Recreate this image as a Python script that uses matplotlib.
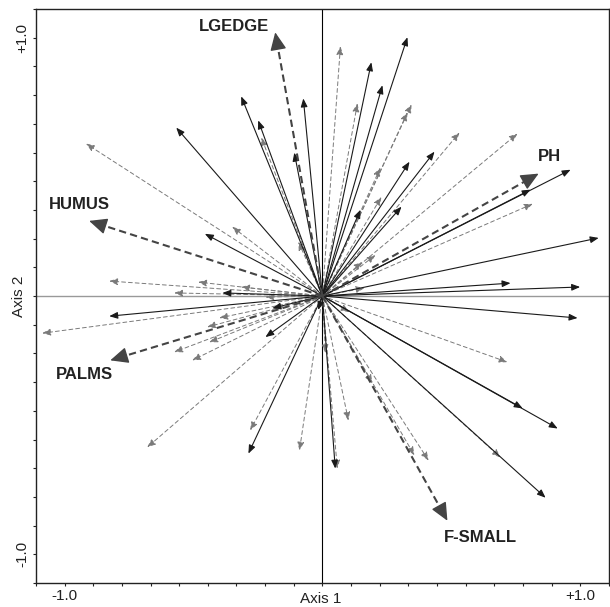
import matplotlib
matplotlib.use("Agg")
import matplotlib.pyplot as plt
import numpy as np

plt.rcParams['font.family'] = ['Liberation Sans', 'DejaVu Sans']

# environmental variables (bold dashed arrows)
env_names = ["LGEDGE", "HUMUS", "PH", "PALMS", "F-SMALL"]
env_x = [-0.183, -0.905, 0.839, -0.823, 0.485]
env_y = [1.021, 0.291, 0.474, -0.249, -0.870]
env_lab_x = [-0.342, -0.944, 0.882, -0.924, 0.614]
env_lab_y = [1.045, 0.353, 0.540, -0.303, -0.936]

# species, solid black arrows
sp_solid_x = [1.072, 1.000, 0.730, 0.963, 0.808, 0.435, 0.338, 0.307, 0.148,
              0.330, 0.190, 0.233, -0.315, -0.249, -0.074, -0.109, -0.567,
              -0.456, -0.388, -0.827, -0.194, -0.221, -0.287, 0.050, 0.990,
              0.777, 0.913, 0.866, -0.016]
sp_solid_y = [0.225, 0.035, 0.050, 0.489, 0.412, 0.559, 0.520, 0.346, 0.334,
              1.002, 0.905, 0.816, 0.773, 0.680, 0.765, 0.555, 0.652,
              0.241, 0.012, -0.078, -0.047, -0.159, -0.610, -0.668, -0.085,
              -0.435, -0.513, -0.781, -0.054]

# species, gray dashed arrows
sp_dash_x = [0.532, 0.757, 0.816, 0.346, 0.330, 0.229, 0.225, 0.206, 0.155,
             0.136, 0.070, -0.237, -0.917, -0.350, -0.093, -0.827, -0.482,
             -0.315, -0.575, -0.221, -1.087, -0.400, -0.447, -0.439, -0.575,
             -0.505, -0.680, -0.280, -0.089, 0.058, 0.101, 0.357, 0.412,
             0.718, 0.691, 0.105, 0.012, 0.194, 0.163]
sp_dash_y = [0.633, 0.629, 0.357, 0.742, 0.711, 0.384, 0.497, 0.159, 0.132,
             0.746, 0.967, 0.614, 0.590, 0.268, 0.210, 0.058, 0.054,
             0.035, 0.012, -0.004, -0.144, -0.085, -0.120, -0.179, -0.217,
             -0.249, -0.586, -0.520, -0.598, -0.668, -0.482, -0.617, -0.637,
             -0.256, -0.625, -0.062, -0.221, -0.338, 0.031]

fig = plt.figure(figsize=(6.10, 6.07), dpi=100)
ax = fig.add_axes([0.059, 0.0395, 0.939, 0.9456])

lim = 10 / 9
ax.set_xlim(-lim, lim)
ax.set_ylim(-lim, lim)

ax.axhline(0, color="0.6", lw=1.0, zorder=1)
ax.axvline(0, color="black", lw=0.8, zorder=1)

def arrow(x, y, color, lw, ls, head, z, x0=0, y0=0):
    ax.annotate("", xy=(x, y), xytext=(x0, y0),
                arrowprops=dict(arrowstyle=head, color=color, lw=lw, ls=ls,
                                shrinkA=0, shrinkB=0),
                zorder=z)

for x, y in zip(sp_dash_x, sp_dash_y):
    arrow(x, y, "#7a7a7a", 0.7, (0, (4, 3)), "-|>,head_length=0.5,head_width=0.2", 2)

for x, y in zip(sp_solid_x, sp_solid_y):
    arrow(x, y, "#1a1a1a", 0.8, "-", "-|>,head_length=0.5,head_width=0.2", 3)

for x, y in zip(env_x, env_y):
    r = np.hypot(x, y)
    ux, uy = x / r, y / r
    # dashed shaft, then a solid head on top
    ax.plot([0, x - 0.03 * ux], [0, y - 0.03 * uy], color="#444444", lw=1.5,
            ls=(0, (3.5, 2)), zorder=4)
    arrow(x, y, "#444444", 1.0, "-", "-|>,head_length=1.1,head_width=0.5", 4,
          x - 0.06 * ux, y - 0.06 * uy)

for name, lx, ly in zip(env_names, env_lab_x, env_lab_y):
    ax.text(lx, ly, name, fontsize=12, fontweight="bold", color="#222222",
            ha="center", va="center", zorder=5)

ticks = np.arange(-10, 11) / 9
ax.set_xticks(ticks)
ax.set_yticks(ticks)
xl = ["" for t in ticks]
xl[1] = "-1.0"
xl[-2] = "+1.0"
ax.set_xticklabels(xl)
ax.set_yticklabels(xl, rotation=90, va="center")
ax.tick_params(direction="out", length=2.5, width=0.8, labelsize=11,
               colors="#222222", pad=2)

ax.set_xlabel("Axis 1", fontsize=11, color="#222222", va="center")
ax.set_ylabel("Axis 2", fontsize=11, color="#222222", va="center")
ax.xaxis.set_label_coords(0.497, -0.027)
ax.yaxis.set_label_coords(-0.029, 0.5)

for sp in ax.spines.values():
    sp.set_linewidth(1.0)
    sp.set_color("#222222")

fig.savefig("out.png", dpi=100)
